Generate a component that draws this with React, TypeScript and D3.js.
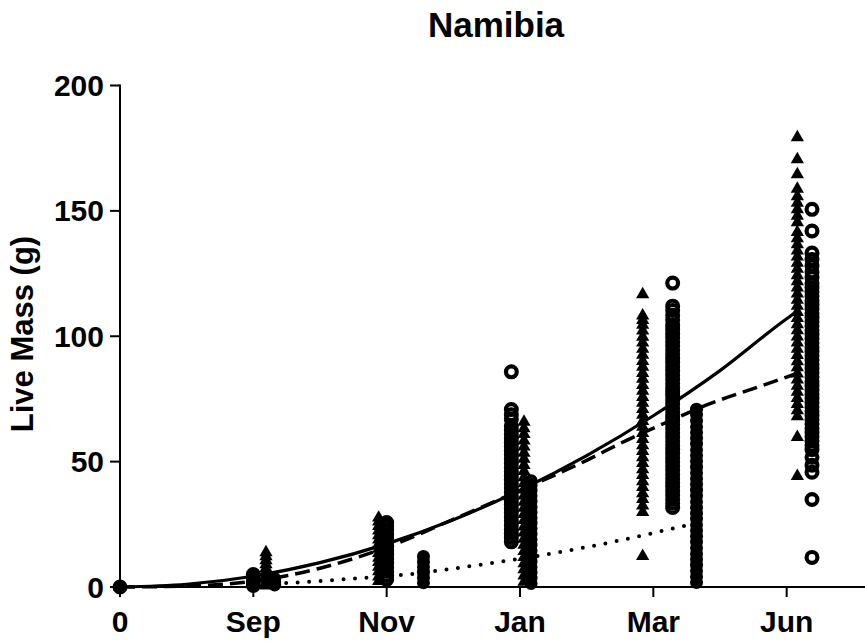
import React from "react";
import * as d3 from "d3";

const WIDTH = 865;
const HEIGHT = 641;

// Sampling occasions (index on the time axis) and their labels
const sampleTicks = [0, 1, 2, 3, 4, 5];
const sampleLabels = ["0", "Sep", "Nov", "Jan", "Mar", "Jun"];
const massTicks = [0, 50, 100, 150, 200];

// Cohort A (filled triangles) – live mass (g) per sampling occasion
const triStartX = 0;
const triStart = [0];
const triSepX = 1.095;
const triSep = [0.5, 1.8, 3.2, 4.6, 6.1, 7.5, 9, 10.6, 12.2, 13.8];
const triNovX = 1.94;
const triNov = [2.3, 4.1, 6.2, 8, 9.9, 11.6, 13.5, 15.2, 17.1, 18.9, 20.6, 22.5, 24.3, 26.1, 27.6];
const triJanX = 3.03;
const triJan = [2, 4.5, 7, 9.4, 11.9, 14.3, 16.8, 19.2, 21.7, 24.1, 26.6, 29, 31.5, 33.9, 36.4, 38.8, 41.3, 43.7, 46.2, 48.6, 51.1, 53.5, 56, 58.4, 60.9, 63.2, 65.8];
const triMarX = 3.92;
const triMar = [12.3, 29.8, 32.4, 35, 37.3, 39.8, 42.1, 44.6, 46.9, 49.4, 51.7, 54.2, 56.5, 59, 61.3, 63.8, 66.1, 68.6, 70.9, 73.4, 75.7, 78.2, 80.5, 83, 85.3, 87.8, 90.1, 92.6, 94.9, 97.4, 99.7, 102.2, 104.5, 106.4, 108.2, 116.7];
const triJunX = 5.08;
const triJun = [44.2, 59.8, 68, 70.4, 72.9, 75.3, 77.8, 80.2, 82.7, 85.1, 87.6, 90, 92.5, 94.9, 97.4, 99.8, 102.3, 104.7, 107.2, 109.6, 112.1, 114.5, 117, 119.4, 121.9, 124.3, 126.8, 129.2, 131.7, 134.1, 136.6, 139, 141.5, 145.4, 148, 150.6, 153.2, 155.8, 158.8, 164.5, 170.5, 179.3];

// Cohort B (open circles)
const ringStartX = 0;
const ringStart = [0];
const ringSepX = 1.0;
const ringSep = [0.6, 2.1, 3.5, 5];
const ringNovX = 2.0;
const ringNov = [3, 4.6, 6.3, 7.9, 9.6, 11.2, 12.9, 14.5, 16.2, 17.8, 19.5, 21.1, 22.8, 24.3, 25.7];
const ringJanX = 2.935;
const ringJan = [18, 19.7, 21.3, 23, 24.6, 26.3, 27.9, 29.6, 31.2, 32.9, 34.5, 36.2, 37.8, 39.5, 41.1, 42.8, 44.4, 46.1, 47.7, 49.4, 51, 52.7, 54.3, 56, 57.6, 59.3, 60.9, 62.6, 64.2, 66.9, 68.7, 70.8, 85.8];
const ringMarX = 4.145;
const ringMar = [31.7, 33.4, 35, 36.7, 38.3, 40, 41.6, 43.3, 44.9, 46.6, 48.2, 49.9, 51.5, 53.2, 54.8, 56.5, 58.1, 59.8, 61.4, 63.1, 64.7, 66.4, 68, 69.7, 71.3, 73, 74.6, 76.3, 77.9, 79.6, 81.2, 82.9, 84.5, 86.2, 87.8, 89.5, 91.1, 92.8, 94.4, 96.1, 97.7, 99.4, 101, 102.7, 104.3, 106.5, 108.4, 110.3, 112, 121.2];
const ringJunX = 5.19;
const ringJun = [11.8, 34.9, 45.8, 48.6, 51.7, 54.8, 56.5, 58.2, 59.9, 61.6, 63.3, 65, 66.7, 68.4, 70.1, 71.8, 73.5, 75.2, 76.9, 78.6, 80.3, 82, 83.7, 85.4, 87.1, 88.8, 90.5, 92.2, 93.9, 95.6, 97.3, 99, 100.7, 102.4, 104.1, 105.8, 107.5, 109.2, 110.9, 112.6, 114.3, 116, 117.7, 119.4, 121.1, 123.4, 125.6, 128.1, 130.6, 133.2, 142, 150.6];

// Cohort C (filled circles)
const dotStartX = 0;
const dotStart = [0];
const dotSepX = 1.16;
const dotSep = [0.8, 2.2, 3.4];
const dotNovX = 2.276;
const dotNov = [1.7, 3.8, 5.9, 8, 10.1, 12.2];
const dotJanX = 3.083;
const dotJan = [1.4, 3.6, 5.8, 8, 10.2, 12.3, 14.5, 16.7, 18.9, 21.1, 23.3, 25.5, 27.6, 29.8, 32, 34.2, 36.4, 38.5, 40.5, 42.4];
const dotMarX = 4.324;
const dotMar = [1.8, 4.1, 6.4, 8.7, 11, 13.3, 15.6, 17.9, 20.2, 22.5, 24.8, 27.1, 29.4, 31.7, 34, 36.3, 38.6, 40.9, 43.2, 45.5, 47.8, 50.1, 52.4, 54.7, 57, 59.3, 61.6, 63.9, 66.2, 68.6, 70.9];

// Fitted growth curves
const fitAX = [0, 0.5, 1, 1.5, 2, 2.5, 3, 3.5, 4, 4.5, 5, 5.08];
const fitAY = [0, 1.1, 4.3, 9.7, 17.2, 26.8, 38.6, 52.4, 68.3, 86.3, 107, 110];
const fitBX = [0, 0.5, 1, 1.25, 1.5, 1.75, 2, 2.5, 3, 3.5, 3.8, 4.07, 4.42, 4.8, 5.08];
const fitBY = [0, 0.4, 2.3, 4.5, 7.5, 11.3, 15.8, 27, 38.5, 50.5, 58.5, 65, 73, 80, 85.2];
const fitCX = [1.16, 1.5, 1.82, 2.17, 2.42, 2.92, 3.17, 3.75, 4.26, 4.33];
const fitCY = [1.3, 2.4, 3.6, 5.1, 6.8, 10.6, 12.7, 18.6, 24.7, 25.5];

const triangleColumns: [number, number[]][] = [
  [triStartX, triStart], [triSepX, triSep], [triNovX, triNov], [triJanX, triJan], [triMarX, triMar], [triJunX, triJun],
];
const ringColumns: [number, number[]][] = [
  [ringStartX, ringStart], [ringSepX, ringSep], [ringNovX, ringNov], [ringJanX, ringJan], [ringMarX, ringMar], [ringJunX, ringJun],
];
const dotColumns: [number, number[]][] = [
  [dotStartX, dotStart], [dotSepX, dotSep], [dotNovX, dotNov], [dotJanX, dotJan], [dotMarX, dotMar],
];

const FONT = "'Liberation Sans', Arial, Helvetica, sans-serif";

export default function App() {
  const x = d3.scaleLinear().domain([0, 5.5875]).range([120, 865]);
  const y = d3.scaleLinear().domain([0, 200]).range([587, 85.5]);

  const triPath = d3.symbol(d3.symbolTriangle, 76)() as string;

  const line = d3
    .line<[number, number]>()
    .x((d) => x(d[0]))
    .y((d) => y(d[1]))
    .curve(d3.curveMonotoneX);

  const zip = (xs: number[], ys: number[]) => xs.map((v, i) => [v, ys[i]] as [number, number]);

  const x0 = x(0);
  const y0 = y(0);

  return (
    <div style={{ position: "absolute", left: 0, top: 0 }}>
      <svg width={WIDTH} height={HEIGHT} style={{ display: "block", background: "#fff" }} fontFamily={FONT}>
        {/* title */}
        <text x={496} y={37} textAnchor="middle" fontSize={35} fontWeight="bold">
          Namibia
        </text>

        {/* y axis title */}
        <text
          transform={`translate(33, 334) rotate(-90)`}
          textAnchor="middle"
          fontSize={31}
          fontWeight="bold"
        >
          Live Mass (g)
        </text>

        {/* filled circles */}
        <g fill="#000">
          {dotColumns.map(([cx, vals], i) =>
            vals.map((v, j) => <circle key={`d${i}-${j}`} cx={x(cx)} cy={y(v)} r={6.5} />)
          )}
        </g>

        {/* open circles */}
        <g fill="none" stroke="#000" strokeWidth={4.2}>
          {ringColumns.map(([cx, vals], i) =>
            vals.map((v, j) => <circle key={`r${i}-${j}`} cx={x(cx)} cy={y(v)} r={5.4} />)
          )}
        </g>

        {/* triangles */}
        <g fill="#000">
          {triangleColumns.map(([cx, vals], i) =>
            vals.map((v, j) => (
              <path key={`t${i}-${j}`} d={triPath} transform={`translate(${x(cx)},${y(v)})`} />
            ))
          )}
        </g>

        {/* fitted curves */}
        <path d={line(zip(fitAX, fitAY)) as string} fill="none" stroke="#000" strokeWidth={3.2} />
        <path
          d={line(zip(fitBX, fitBY)) as string}
          fill="none"
          stroke="#000"
          strokeWidth={3.5}
          strokeDasharray="15 7"
        />
        <path
          d={line(zip(fitCX, fitCY)) as string}
          fill="none"
          stroke="#000"
          strokeWidth={4}
          strokeLinecap="round"
          strokeDasharray="0 11.5"
        />

        {/* y axis */}
        <g stroke="#000" strokeWidth={2}>
          <line x1={x0} x2={x0} y1={y(200) - 1} y2={y0 + 1} />
          {massTicks.map((t) => (
            <line key={`yt${t}`} x1={x0 - 10} x2={x0} y1={y(t)} y2={y(t)} />
          ))}
        </g>
        <g fontSize={30} fontWeight="bold" textAnchor="end">
          {massTicks.map((t) => (
            <text key={`yl${t}`} x={104} y={y(t)} dy="0.35em">
              {t}
            </text>
          ))}
        </g>

        {/* x axis */}
        <g stroke="#000" strokeWidth={2}>
          <line x1={x0 - 1} x2={WIDTH} y1={y0} y2={y0} />
          {sampleTicks.map((t) => (
            <line key={`xt${t}`} x1={x(t)} x2={x(t)} y1={y0} y2={y0 + 10} />
          ))}
        </g>
        <g fontSize={30} fontWeight="bold" textAnchor="middle">
          {sampleTicks.map((t, i) => (
            <text key={`xl${t}`} x={x(t)} y={632}>
              {sampleLabels[i]}
            </text>
          ))}
        </g>
      </svg>
    </div>
  );
}
